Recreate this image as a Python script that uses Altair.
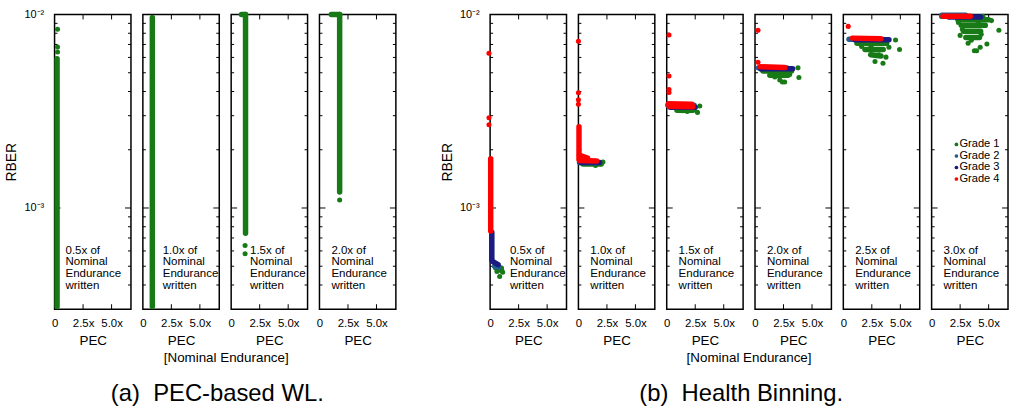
import altair as alt
import pandas as pd

FONT = "Liberation Sans"

# ---------------- categories / scales ----------------
GRADES = ["Grade 1", "Grade 2", "Grade 3", "Grade 4"]
GRADE_COLORS = ["#177a17", "#1f5f8f", "#1b1b82", "#ff0000"]

X_DOMAIN = [0, 6.7]
Y_DOMAIN = [3e-4, 1e-2]
X_LABEL_VALUES = [0, 2.5, 5.0]
X_TICK_VALUES = [2.5, 5.0]
Y_LABEL_VALUES = [1e-3, 1e-2]
Y_MAJOR_TICKS = [1e-3]
Y_MINOR_TICKS = [4e-4, 5e-4, 6e-4, 7e-4, 8e-4, 9e-4,
                 2e-3, 3e-3, 4e-3, 5e-3, 6e-3, 7e-3, 8e-3, 9e-3]

NOTES_A = ["0.5x of\nNominal\nEndurance\nwritten",
           "1.0x of\nNominal\nEndurance\nwritten",
           "1.5x of\nNominal\nEndurance\nwritten",
           "2.0x of\nNominal\nEndurance\nwritten"]
NOTES_B = ["0.5x of\nNominal\nEndurance\nwritten",
           "1.0x of\nNominal\nEndurance\nwritten",
           "1.5x of\nNominal\nEndurance\nwritten",
           "2.0x of\nNominal\nEndurance\nwritten",
           "2.5x of\n\u00a0Nominal\nEndurance\nwritten",
           "3.0x of\nNominal\nEndurance\nwritten"]

X_TITLE = "PEC"
Y_TITLE = "RBER"
UNIT_LABEL = "[Nominal Endurance]"
CAPTION_A = "(a)\u00a0\u00a0PEC-based WL."
CAPTION_B = "(b)\u00a0\u00a0Health Binning."

# ---------------- data ----------------
# dense runs of dots: (grade, x_start, rber_start, x_end, rber_end)
# isolated dots:      (grade, x, rber)
A1_BANDS = [("Grade 1", 0.22, 3.1e-4, 0.22, 5.9e-3)]
A1_POINTS = [("Grade 1", 0.26, 8.4e-3), ("Grade 1", 0.26, 6.8e-3), ("Grade 1", 0.26, 6.4e-3)]

A2_BANDS = [("Grade 1", 0.83, 3.1e-4, 0.83, 9.65e-3)]
A2_POINTS = []

A3_BANDS = [("Grade 1", 1.26, 7.4e-4, 1.26, 1e-2), ("Grade 1", 0.9, 1e-2, 1.26, 1e-2)]
A3_POINTS = [("Grade 1", 1.22, 6.4e-4), ("Grade 1", 1.22, 5.8e-4)]

A4_BANDS = [("Grade 1", 1.77, 1.21e-3, 1.77, 1e-2), ("Grade 1", 1.04, 1e-2, 1.77, 1e-2)]
A4_POINTS = [("Grade 1", 1.77, 1.1e-3)]

B1_BANDS = [("Grade 1", 0.5, 4.9e-4, 1.0, 4.75e-4),
            ("Grade 2", 0.4, 5.0e-4, 0.8, 4.95e-4),
            ("Grade 3", 0.15, 7.5e-4, 0.15, 5.4e-4),
            ("Grade 3", 0.2, 5.3e-4, 0.7, 5.1e-4),
            ("Grade 4", 0.05, 1.8e-3, 0.05, 7.6e-4)]
B1_POINTS = [("Grade 1", 0.84, 4.43e-4), ("Grade 1", 1.1, 4.66e-4),
             ("Grade 1", 0.6, 4.7e-4), ("Grade 1", 1.0, 4.9e-4),
             ("Grade 4", -0.1, 6.3e-3), ("Grade 4", -0.1, 2.93e-3), ("Grade 4", -0.1, 2.69e-3)]

B2_BANDS = [("Grade 1", 0.4, 1.69e-3, 2.0, 1.69e-3),
            ("Grade 2", 0.1, 1.72e-3, 1.6, 1.72e-3),
            ("Grade 3", 0.2, 1.72e-3, 1.85, 1.72e-3),
            ("Grade 4", 0.05, 2.63e-3, 0.05, 1.78e-3),
            ("Grade 4", 0.1, 1.76e-3, 1.6, 1.75e-3),
            ("Grade 4", 0.1, 1.87e-3, 0.8, 1.81e-3)]
B2_POINTS = [("Grade 1", 2.15, 1.73e-3), ("Grade 1", 1.5, 1.66e-3),
             ("Grade 4", 0.0, 7.27e-3), ("Grade 4", 0.0, 3.94e-3),
             ("Grade 4", 0.0, 3.63e-3), ("Grade 4", 0.0, 3.44e-3)]

B3_BANDS = [("Grade 1", 0.9, 3.2e-3, 2.3, 3.2e-3),
            ("Grade 2", 0.1, 3.4e-3, 2.4, 3.4e-3),
            ("Grade 3", 0.3, 3.32e-3, 2.5, 3.32e-3),
            ("Grade 4", 0.15, 3.46e-3, 2.2, 3.44e-3),
            ("Grade 4", 0.2, 3.36e-3, 2.3, 3.34e-3)]
B3_POINTS = [("Grade 1", 2.9, 3.37e-3), ("Grade 1", 2.7, 3.12e-3), ("Grade 1", 1.4, 3.18e-3),
             ("Grade 1", 1.8, 3.15e-3), ("Grade 1", 2.4, 3.22e-3),
             ("Grade 4", 0.2, 7.83e-3), ("Grade 4", 0.2, 4.81e-3),
             ("Grade 4", 0.2, 4.1e-3), ("Grade 4", 0.2, 3.95e-3)]

B4_BANDS = [("Grade 1", 0.7, 5.1e-3, 3.2, 5.1e-3),
            ("Grade 1", 1.3, 4.85e-3, 2.9, 4.85e-3),
            ("Grade 2", 0.3, 5.3e-3, 2.8, 5.3e-3),
            ("Grade 3", 0.5, 5.25e-3, 3.3, 5.25e-3),
            ("Grade 4", 0.45, 5.37e-3, 2.6, 5.32e-3)]
B4_POINTS = [("Grade 1", 3.77, 5.3e-3), ("Grade 1", 3.85, 4.72e-3), ("Grade 1", 1.74, 4.76e-3),
             ("Grade 1", 2.4, 4.48e-3), ("Grade 1", 2.6, 4.48e-3), ("Grade 1", 3.04, 4.9e-3),
             ("Grade 1", 1.57, 4.85e-3), ("Grade 1", 2.17, 4.59e-3), ("Grade 1", 0.58, 5.2e-3),
             ("Grade 4", 0.26, 8.28e-3), ("Grade 4", 0.26, 5.67e-3)]

B5_BANDS = [("Grade 1", 1.2, 7.1e-3, 3.8, 7.1e-3),
            ("Grade 1", 1.9, 6.6e-3, 3.5, 6.6e-3),
            ("Grade 1", 2.4, 6.2e-3, 3.3, 6.1e-3),
            ("Grade 2", 0.5, 7.45e-3, 3.0, 7.45e-3),
            ("Grade 3", 1.0, 7.4e-3, 4.0, 7.4e-3),
            ("Grade 4", 0.8, 7.55e-3, 3.3, 7.5e-3)]
B5_POINTS = [("Grade 1", 4.58, 7.38e-3), ("Grade 1", 4.93, 6.59e-3), ("Grade 1", 1.6, 6.83e-3),
             ("Grade 1", 2.78, 5.72e-3), ("Grade 1", 3.48, 5.6e-3), ("Grade 1", 3.74, 6.02e-3),
             ("Grade 1", 3.13, 6.54e-3), ("Grade 1", 2.43, 6.85e-3), ("Grade 1", 4.0, 6.77e-3),
             ("Grade 1", 2.1, 7.18e-3),
             ("Grade 4", 0.43, 8.68e-3)]

B6_BANDS = [("Grade 1", 2.3, 9.4e-3, 5.0, 9.4e-3),
            ("Grade 1", 2.6, 8.8e-3, 4.7, 8.8e-3),
            ("Grade 1", 2.8, 8.2e-3, 4.3, 8.2e-3),
            ("Grade 1", 3.0, 7.6e-3, 4.2, 7.6e-3),
            ("Grade 2", 0.9, 9.9e-3, 3.0, 9.9e-3),
            ("Grade 3", 1.5, 9.7e-3, 4.3, 9.7e-3),
            ("Grade 4", 1.0, 9.8e-3, 3.4, 9.8e-3)]
B6_POINTS = [("Grade 1", 0.87, 9.76e-3), ("Grade 1", 5.9, 8.3e-3), ("Grade 1", 5.25, 9.3e-3),
             ("Grade 1", 2.5, 7.8e-3), ("Grade 1", 2.7, 8.4e-3), ("Grade 1", 3.95, 6.5e-3),
             ("Grade 1", 3.75, 6.5e-3), ("Grade 1", 4.26, 6.77e-3), ("Grade 1", 4.85, 7.04e-3),
             ("Grade 1", 3.48, 7.36e-3), ("Grade 1", 4.35, 7.9e-3), ("Grade 1", 4.7, 8.78e-3),
             ("Grade 1", 2.35, 9.1e-3), ("Grade 1", 4.09, 9.1e-3), ("Grade 1", 3.2, 7.1e-3),
             ("Grade 1", 4.5, 9.8e-3)]

PANELS_A = [(A1_BANDS, A1_POINTS), (A2_BANDS, A2_POINTS), (A3_BANDS, A3_POINTS), (A4_BANDS, A4_POINTS)]
PANELS_B = [(B1_BANDS, B1_POINTS), (B2_BANDS, B2_POINTS), (B3_BANDS, B3_POINTS),
            (B4_BANDS, B4_POINTS), (B5_BANDS, B5_POINTS), (B6_BANDS, B6_POINTS)]

# ---------------- styling ----------------
W, H = 77, 297
PANEL_GAP, GROUP_GAP = 12, 42
NOTE_DX_A = [11, 20, 19, 12]
NOTE_DX_B = [20, 12, 12, 12, 12, 12]
NOTE_Y = 232
NOTE_FS = 11.6
NOTE_LH = 11.8
DOT_SIZE = 26
BAND_WIDTH = 5.5
LEG_X, LEG_Y, LEG_STEP, LEG_FS = 25, 131, 11.6, 11.2
# group labels are attached to the 2nd panel of (a) and 3rd panel of (b)
UNIT_DX_A, UNIT_DX_B, UNIT_Y, UNIT_FS = 84, 83, 346, 13.5
CAP_DX_A, CAP_DX_B, CAP_Y = 75, 75, 383

XS = alt.Scale(domain=X_DOMAIN, nice=False, zero=False)
YS = alt.Scale(type="log", domain=Y_DOMAIN, nice=False)
CS = alt.Scale(domain=GRADES, range=GRADE_COLORS)

X_AXIS = alt.Axis(values=X_LABEL_VALUES,
                  labelExpr="datum.value == 0 ? '0' : format(datum.value, '.1f') + 'x'",
                  ticks=False, domain=False, grid=False, labelFlush=False, labelOverlap=False,
                  title=X_TITLE, labelFontSize=11.5, titleFontSize=13.5, titleFontWeight="normal",
                  labelPadding=8, titlePadding=5)
Y_AXIS = alt.Axis(values=Y_LABEL_VALUES,
                  labelExpr="datum.value < 0.005 ? '10\u207b\u00b3' : '10\u207b\u00b2'",
                  ticks=False, domain=False, grid=False, labelFlush=False, labelOverlap=False,
                  title=Y_TITLE, labelFontSize=11, titleFontSize=14, titleFontWeight="normal",
                  labelPadding=11, titlePadding=5)


def text_layer(txt, dx, dy, size, baseline="middle", align="center", line_height=NOTE_LH):
    return alt.Chart(pd.DataFrame({"t": [txt]})).mark_text(
        align=align, baseline=baseline, font=FONT, fontSize=size, color="black",
        lineBreak="\n", lineHeight=line_height).encode(x=alt.value(dx), y=alt.value(dy), text="t:N")


def make_panel(bands, points, note, note_dx, show_y, show_legend, extras=()):
    yaxis = Y_AXIS if show_y else None
    layers = []
    for vals, L in ((Y_MINOR_TICKS, 3), (Y_MAJOR_TICKS, 6)):
        df = pd.DataFrame({"v": vals})
        for x0, x1 in ((0, L), (W - L, W)):
            layers.append(alt.Chart(df).mark_rule(color="black", strokeWidth=1).encode(
                y=alt.Y("v:Q", scale=YS, axis=yaxis), x=alt.value(x0), x2=alt.value(x1)))
    xt = pd.DataFrame({"v": X_TICK_VALUES})
    for y0, y1 in ((0, 5), (H - 5, H)):
        layers.append(alt.Chart(xt).mark_rule(color="black", strokeWidth=1).encode(
            x=alt.X("v:Q", scale=XS, axis=X_AXIS), y=alt.value(y0), y2=alt.value(y1)))

    bdf = pd.DataFrame(bands, columns=["grade", "x", "y", "x2", "y2"])
    pdf = pd.DataFrame(points, columns=["grade", "x", "y"])
    for g in GRADES:
        b = bdf[bdf["grade"] == g]
        if len(b):
            layers.append(alt.Chart(b).mark_rule(strokeWidth=BAND_WIDTH, strokeCap="round",
                                                 opacity=1, clip=False).encode(
                x=alt.X("x:Q", scale=XS, axis=X_AXIS), x2="x2:Q",
                y=alt.Y("y:Q", scale=YS, axis=yaxis), y2="y2:Q",
                color=alt.Color("grade:N", scale=CS, legend=None)))
        p = pdf[pdf["grade"] == g]
        if len(p):
            layers.append(alt.Chart(p).mark_circle(size=DOT_SIZE, opacity=1, clip=False).encode(
                x=alt.X("x:Q", scale=XS, axis=X_AXIS),
                y=alt.Y("y:Q", scale=YS, axis=yaxis),
                color=alt.Color("grade:N", scale=CS, legend=None)))

    layers.append(text_layer(note, note_dx, NOTE_Y, NOTE_FS, baseline="top", align="left"))

    if show_legend:
        for i, g in enumerate(GRADES):
            gdf = pd.DataFrame({"grade": [g]})
            yy = LEG_Y + i * LEG_STEP
            layers.append(alt.Chart(gdf).mark_circle(size=14, opacity=1).encode(
                x=alt.value(LEG_X), y=alt.value(yy),
                color=alt.Color("grade:N", scale=CS, legend=None)))
            layers.append(alt.Chart(gdf).mark_text(align="left", baseline="middle", font=FONT,
                                                   fontSize=LEG_FS, color="black").encode(
                x=alt.value(LEG_X + 3), y=alt.value(yy), text="grade:N"))
    layers.extend(extras)
    return alt.layer(*layers).properties(width=W, height=H)


extras_a = {1: [text_layer(UNIT_LABEL, UNIT_DX_A, UNIT_Y, UNIT_FS),
                text_layer(CAPTION_A, CAP_DX_A, CAP_Y, 24)]}
extras_b = {2: [text_layer(UNIT_LABEL, UNIT_DX_B, UNIT_Y, UNIT_FS),
                text_layer(CAPTION_B, CAP_DX_B, CAP_Y, 24)]}

panels_a = [make_panel(b, p, NOTES_A[i], NOTE_DX_A[i], i == 0, False, extras_a.get(i, ()))
            for i, (b, p) in enumerate(PANELS_A)]
panels_b = [make_panel(b, p, NOTES_B[i], NOTE_DX_B[i], i == 0, i == 5, extras_b.get(i, ()))
            for i, (b, p) in enumerate(PANELS_B)]

group_a = alt.hconcat(*panels_a, spacing=PANEL_GAP, bounds="flush")
group_b = alt.hconcat(*panels_b, spacing=PANEL_GAP, bounds="flush")

chart = alt.hconcat(group_a, group_b, spacing=GROUP_GAP).properties(
    padding={"left": 4, "top": 6, "right": 0, "bottom": 0}, background="white"
).configure_view(stroke="black", strokeWidth=1.5).configure_axis(
    labelFont=FONT, titleFont=FONT, labelColor="black", titleColor="black"
)

chart.save("out.html", embed_options={"renderer": "svg", "actions": False})
